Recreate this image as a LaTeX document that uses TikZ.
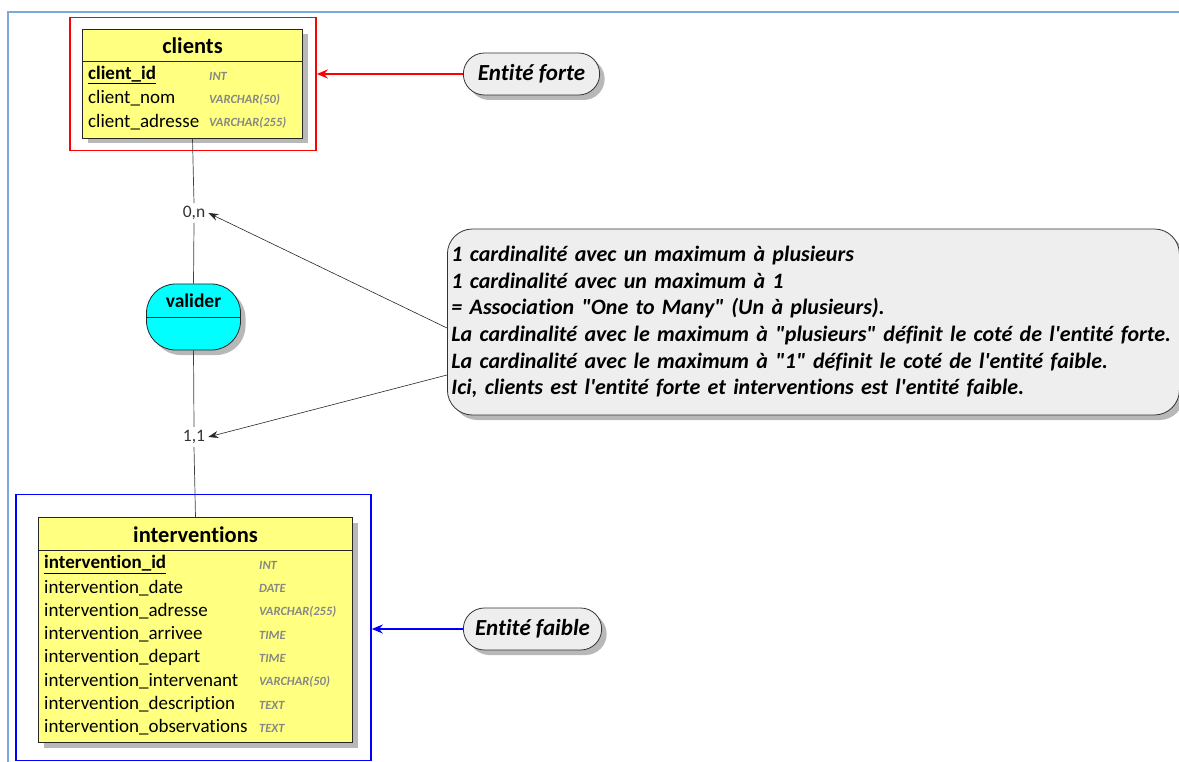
\documentclass[tikz,border=0pt]{standalone}
\usepackage{fontspec}
\setmainfont{Carlito}[Ligatures={TeXOff,NoCommon}]
\usetikzlibrary{arrows.meta,positioning,calc,shapes.misc,shapes.geometric,shadows}
\definecolor{tabfill}{RGB}{255,255,128}
\definecolor{notefill}{RGB}{238,238,238}
\definecolor{framebl}{RGB}{125,168,218}
\definecolor{typegray}{RGB}{135,135,135}
\definecolor{assocfill}{RGB}{0,255,255}
\tikzset{
  sh/.style={drop shadow={shadow xshift=5pt, shadow yshift=-5pt, fill=black!28, opacity=1}},
  tablebox/.style={draw=black!85, fill=tabfill, line width=0.9pt, inner sep=0pt, sh},
  tabhead/.style={font=\fontsize{22.5}{26}\selectfont\bfseries, inner sep=0pt},
  field/.style={font=\fontsize{19}{22}\selectfont, anchor=west, inner sep=0pt},
  ftype/.style={font=\fontsize{12.5}{14}\selectfont\bfseries\itshape, text=typegray, anchor=west, inner sep=0pt},
  card/.style={font=\fontsize{17.5}{20}\selectfont, text=black!80, inner sep=3pt},
  link/.style={draw=black!75, line width=0.7pt},
  pill/.style={rounded rectangle, draw=black!80, fill=notefill, line width=0.8pt, minimum height=42pt, font=\fontsize{23}{26}\selectfont\bfseries\itshape, sh},
  notebox/.style={draw=black!80, fill=notefill, line width=0.8pt, rounded corners=25pt, sh},
  ptr/.style={draw=black!85, line width=0.6pt, -{Stealth[length=10pt, width=7pt]}},
  hilite/.style={line width=1.6pt, inner sep=0pt}
}
\begin{document}
\begin{tikzpicture}[x=1pt, y=-1pt]
    \useasboundingbox (0,0) rectangle (1179,762);
    % outer frame
    \draw[framebl, line width=1.4pt] (1179,12) -- (8,12) -- (8,762);
    % clients
    \node[hilite, draw=red, minimum width=246pt, minimum height=133pt] (redbox) at (193,84) {};
    \node[tablebox, minimum width=220pt, minimum height=109pt] (tclients) at (192.5,83.5) {};
    \draw[black!85, line width=0.8pt] ($(tclients.north west)+(0,33)$) -- ($(tclients.north east)+(0,33)$);
    \node[tabhead] (hclients) at (192.5,46) {clients};
    \node[field] (cid) at (88,75) {\textbf{\underline{client\_id}}};
    \node[ftype] at (209,76) {INT};
    \node[field] (cnom) at (88,98.5) {client\_nom};
    \node[ftype] at (209,99.5) {VARCHAR(50)};
    \node[field] (cadr) at (88,122) {client\_adresse};
    \node[ftype] at (209,123) {VARCHAR(255)};
    % interventions
    \node[hilite, draw=blue, minimum width=355pt, minimum height=266pt] (bluebox) at (193.5,627.5) {};
    \node[tablebox, minimum width=314pt, minimum height=225pt] (tinterv) at (195.5,630) {};
    \draw[black!85, line width=0.8pt] ($(tinterv.north west)+(0,33)$) -- ($(tinterv.north east)+(0,33)$);
    \node[tabhead] (hinterv) at (195.5,534.5) {interventions};
    \node[field] (iv0) at (44,564.5) {\textbf{\underline{intervention\_id}}};
    \node[ftype] at (259,565.5) {INT};
    \foreach \nm/\ty [count=\i] in {date/DATE, adresse/VARCHAR(255), arrivee/TIME, depart/TIME,
        intervenant/VARCHAR(50), description/TEXT, observations/TEXT} {
      \node[field] (iv\i) at (44,564.5+23.3*\i) {intervention\_\nm};
      \node[ftype] at (259,565.5+23.3*\i) {\ty};
    }
    % association
    \node[rectangle, rounded corners=29pt, draw=black!85, fill=assocfill, line width=0.8pt, minimum width=94pt, minimum height=66pt, sh] (valider) at (193.5,317) {};
    \draw[black!85, line width=0.8pt] (valider.west) -- (valider.east);
    \node[tabhead, font=\fontsize{19.5}{22}\selectfont\bfseries] (lvalider) at (193.5,301) {valider};
    \node[card] (c0n) at (194,213) {0,n};
    \node[card] (c11) at (194,437) {1,1};
    \draw[link] (tclients.south) -- (c0n.north);
    \draw[link] (c0n.south) -- (valider.north);
    \draw[link] (valider.south) -- (c11.north);
    \draw[link] (c11.south) -- (tinterv.north);
    % note
    \node[notebox, anchor=west, minimum width=730pt, minimum height=186pt, text width=724pt, inner sep=4pt, align=left,
      font=\fontsize{22}{26.6}\selectfont\bfseries\itshape] (note) at (447,322)
      {1 cardinalité avec un maximum à plusieurs\\
       1 cardinalité avec un maximum à 1\\
       = Association "One to Many" (Un à plusieurs).\\
       La cardinalité avec le maximum à "plusieurs" définit le coté de l'entité forte.\\
       La cardinalité avec le maximum à "1" définit le coté de l'entité faible.\\
       Ici, clients est l'entité forte et interventions est l'entité faible.};
    \coordinate (n1) at (447,328);
    \coordinate (n2) at (447,375);
    \draw[ptr] (n1) -- (c0n.east);
    \draw[ptr] (n2) -- (c11.east);
    % labels
    \node[pill, minimum width=143pt] (forte) at (531.5,74) {Entité forte};
    \node[pill, minimum width=145pt] (faible) at (532.5,629) {Entité faible};
    \draw[red, line width=1.6pt, -{Stealth[length=11pt, width=9pt]}] (forte.west) -- (redbox.east |- forte.west);
    \draw[blue, line width=1.6pt, -{Stealth[length=11pt, width=9pt]}] (faible.west) -- (bluebox.east |- faible.west);
\end{tikzpicture}
\end{document}
